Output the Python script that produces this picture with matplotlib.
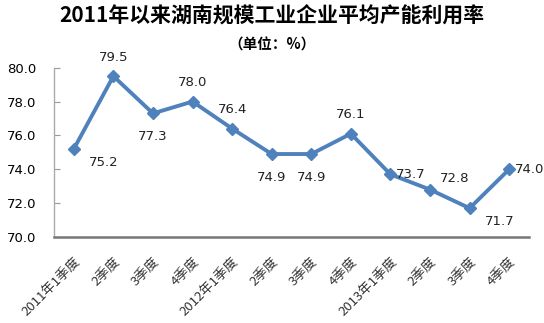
import matplotlib
matplotlib.use("Agg")
import matplotlib.pyplot as plt

plt.rcParams['font.family'] = ['Noto Sans CJK SC', 'DejaVu Sans']

categories = ["2011年1季度", "2季度", "3季度", "4季度",
              "2012年1季度", "2季度", "3季度", "4季度",
              "2013年1季度", "2季度", "3季度", "4季度"]
values = [75.2, 79.5, 77.3, 78.0, 76.4, 74.9, 74.9, 76.1, 73.7, 72.8, 71.7, 74.0]
label_pos = ["rb", "a", "b", "a", "a", "b", "b", "a", "r", "ra", "rb", "r"]

fig = plt.figure(figsize=(5.44, 3.23), dpi=100)
ax = fig.add_axes([0.0993, 0.2663, 0.8731, 0.5241])

x = list(range(len(values)))
ax.plot(x, values, color="#4F81BD", lw=2.8, marker="D", ms=6.5, mec="#4F81BD", mfc="#4F81BD")

offsets = {"a": (0, 9, "center", "bottom"), "b": (0, -12, "center", "top"),
           "rb": (11, -5, "left", "top"), "r": (4, 0, "left", "center"),
           "ra": (7, 3, "left", "bottom")}
for xi, v, p in zip(x, values, label_pos):
    dx, dy, ha, va = offsets[p]
    ax.annotate(f"{v:.1f}", (xi, v), xytext=(dx, dy), textcoords="offset points",
                ha=ha, va=va, fontsize=9.5, color="#222222", family=["DejaVu Sans"])

ax.set_xlim(-0.5, len(values) - 0.5)
ax.set_ylim(70, 80)
ax.set_yticks([70, 72, 74, 76, 78, 80])
ax.set_yticklabels([f"{t:.1f}" for t in [70, 72, 74, 76, 78, 80]], fontsize=9.5, family=["DejaVu Sans"])
ax.set_xticks(x)
ax.set_xticklabels(categories, rotation=45, ha="right", rotation_mode="anchor", fontsize=9.5,
                   color="#333333")
ax.tick_params(axis="x", length=0, pad=13)
ax.tick_params(axis="y", length=4, direction="in", color="#999999", pad=13)

for s in ["top", "right"]:
    ax.spines[s].set_visible(False)
ax.spines["left"].set_color("#aaaaaa")
ax.spines["left"].set_linewidth(1.0)
ax.spines["bottom"].set_color("#777777")
ax.spines["bottom"].set_linewidth(1.8)

fig.text(0.5, 0.950, "2011年以来湖南规模工业企业平均产能利用率", ha="center", va="center",
         fontsize=15, fontweight="bold")
fig.text(0.5, 0.862, "（单位：%）", ha="center", va="center", fontsize=10.5, fontweight="bold")

fig.savefig("out.png", dpi=100)
